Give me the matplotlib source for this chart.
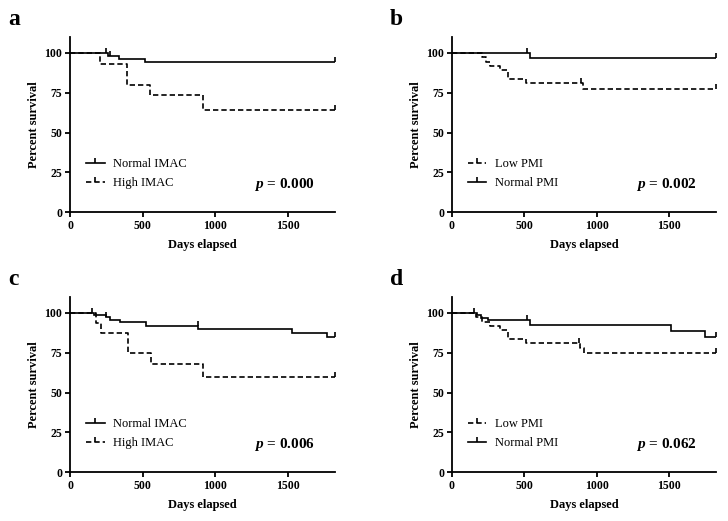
import numpy as np
import matplotlib
matplotlib.use("Agg")
import matplotlib.pyplot as plt
from matplotlib.path import Path
from matplotlib.lines import Line2D

plt.rcParams.update({
    "font.family": ["Liberation Serif", "DejaVu Serif"],
    "axes.linewidth": 1.3,
    "xtick.major.width": 1.3,
    "ytick.major.width": 1.3,
    "xtick.major.size": 3.5,
    "ytick.major.size": 3.5,
    "mathtext.fontset": "custom",
    "mathtext.it": "Liberation Serif:italic:bold",
    "mathtext.bf": "Liberation Serif:italic:bold",
})

# ---- data (days, percent survival after each step) ----
# panel a: IMAC
a_norm_t = [0, 260, 340, 520]
a_norm_s = [100, 98.1, 96.2, 94.2]
a_norm_cens = [245, 275, 1825]
a_high_t = [0, 208, 396, 549, 919]
a_high_s = [100, 93.3, 80.0, 73.3, 64.2]
a_high_cens = [1825]

# panel b: PMI
b_low_t = [0, 212, 237, 265, 333, 390, 511, 906]
b_low_s = [100, 97.3, 94.6, 91.9, 89.2, 83.8, 81.1, 77.5]
b_low_cens = [890, 1825]
b_norm_t = [0, 538]
b_norm_s = [100, 96.8]
b_norm_cens = [516, 1825]

# panel c: IMAC
c_norm_t = [0, 165, 185, 245, 273, 342, 521, 884, 1532, 1773]
c_norm_s = [100, 99.0, 98.6, 97.2, 95.8, 94.3, 91.7, 90.2, 87.6, 84.6]
c_norm_cens = [153, 250, 880, 1825]
c_high_t = [0, 181, 213, 400, 555, 919]
c_high_s = [100, 93.8, 87.5, 75.0, 68.2, 59.7]
c_high_cens = [1825]

# panel d: PMI
d_low_t = [0, 170, 212, 265, 333, 390, 511, 885, 910]
d_low_s = [100, 97.3, 94.6, 91.9, 89.2, 83.8, 81.1, 77.9, 74.6]
d_low_cens = [880, 1825]
d_norm_t = [0, 175, 205, 250, 538, 1509, 1746]
d_norm_s = [100, 98.5, 97.0, 95.5, 92.3, 88.7, 84.6]
d_norm_cens = [155, 516, 1825]

p_values = ["0.000", "0.002", "0.006", "0.062"]
panel_letters = ["a", "b", "c", "d"]

XMAX = 1825
DASH = (0, (3.2, 1.8))
LW = 1.2
# upward censor tick
tick_marker = Path([(0, 0), (0, 1)], [Path.MOVETO, Path.LINETO])


def km(ax, t, s, cens, ls):
    t = np.asarray(t, float)
    s = np.asarray(s, float)
    tt = np.append(t, XMAX)
    ss = np.append(s, s[-1])
    ax.step(tt, ss, where="post", color="black", lw=LW, linestyle=ls,
            solid_joinstyle="miter")
    cens = np.asarray(cens, float)
    idx = np.searchsorted(t, cens, side="right") - 1
    ax.plot(cens, s[idx], linestyle="none", marker=tick_marker, markersize=6.5,
            markeredgewidth=LW, color="black")


def style(ax, letter, pval, handles, labels):
    ax.set_xlim(0, XMAX)
    ax.set_ylim(0, 110)
    ax.set_xticks([0, 500, 1000, 1500])
    ax.set_yticks([0, 25, 50, 75, 100])
    for s in ("top", "right"):
        ax.spines[s].set_visible(False)
    ax.tick_params(labelsize=8.5, pad=2)
    for lab in ax.get_xticklabels() + ax.get_yticklabels():
        lab.set_fontweight("bold")
    ax.set_xlabel("Days elapsed", fontsize=9, fontweight="bold", labelpad=5)
    ax.set_ylabel("Percent survival", fontsize=9, fontweight="bold", labelpad=3)
    ax.text(0.925, 0.16, "$\\mathbf{\\mathit{p}}$ = " + pval, transform=ax.transAxes,
            ha="right", va="center", fontsize=11, fontweight="bold")
    ax.legend(handles, labels, loc="center left", bbox_to_anchor=(0.06, 0.22),
              frameon=False, fontsize=9, handlelength=1.5, handletextpad=0.7,
              labelspacing=0.55, borderpad=0, borderaxespad=0, numpoints=1)
    ax.text(-0.235, 1.10, letter, transform=ax.transAxes, fontsize=17,
            fontweight="bold", ha="left", va="center")


fig = plt.figure(figsize=(7.28, 5.21), dpi=100)
W, H = 0.3635, 0.3365
pos = [(0.0962, 0.5925), (0.6205, 0.5925), (0.0962, 0.0935), (0.6205, 0.0935)]
axes = [fig.add_axes([x, y, W, H]) for x, y in pos]

solid_h = Line2D([], [], color="black", lw=LW, marker=tick_marker, markersize=6.5,
                 markeredgewidth=LW)
dash_h = Line2D([], [], color="black", lw=LW, linestyle=DASH, marker=tick_marker,
                markersize=6.5, markeredgewidth=LW)

km(axes[0], a_norm_t, a_norm_s, a_norm_cens, "-")
km(axes[0], a_high_t, a_high_s, a_high_cens, DASH)
style(axes[0], panel_letters[0], p_values[0], [solid_h, dash_h], ["Normal IMAC", "High IMAC"])

km(axes[1], b_norm_t, b_norm_s, b_norm_cens, "-")
km(axes[1], b_low_t, b_low_s, b_low_cens, DASH)
style(axes[1], panel_letters[1], p_values[1], [dash_h, solid_h], ["Low PMI", "Normal PMI"])

km(axes[2], c_norm_t, c_norm_s, c_norm_cens, "-")
km(axes[2], c_high_t, c_high_s, c_high_cens, DASH)
style(axes[2], panel_letters[2], p_values[2], [solid_h, dash_h], ["Normal IMAC", "High IMAC"])

km(axes[3], d_norm_t, d_norm_s, d_norm_cens, "-")
km(axes[3], d_low_t, d_low_s, d_low_cens, DASH)
style(axes[3], panel_letters[3], p_values[3], [dash_h, solid_h], ["Low PMI", "Normal PMI"])

fig.savefig("out.png", dpi=100, facecolor="white")
